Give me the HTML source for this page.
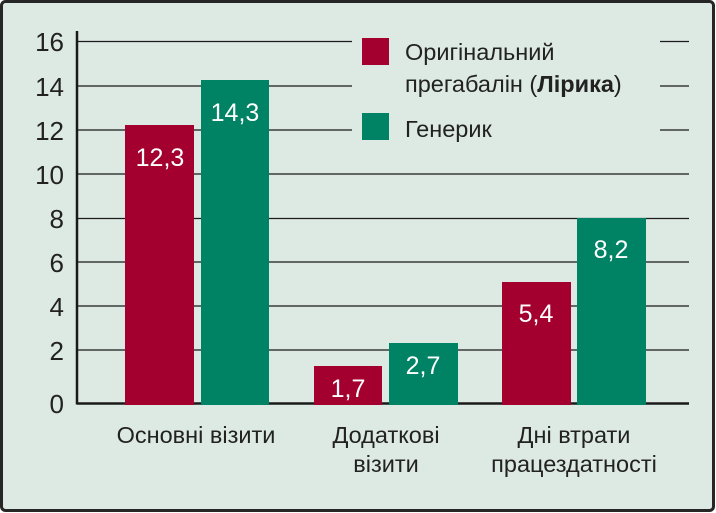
<!DOCTYPE html>
<html><head><meta charset="utf-8"><style>
html,body{margin:0;padding:0;background:#fff}
svg{display:block}
text{font-family:"Liberation Sans","DejaVu Sans",sans-serif}
</style></head><body>
<svg width="716" height="513" viewBox="0 0 716 513" xmlns="http://www.w3.org/2000/svg">
<rect x="1.5" y="1.5" width="712" height="509" rx="4" fill="#dde9e3" stroke="#262626" stroke-width="3"/>
<g stroke="#1a1a1a" stroke-width="1.3">
<line x1="77" y1="41.5" x2="689" y2="41.5"/>
<line x1="77" y1="86" x2="689" y2="86"/>
<line x1="77" y1="130" x2="689" y2="130"/>
<line x1="77" y1="174" x2="689" y2="174"/>
<line x1="77" y1="218.5" x2="689" y2="218.5"/>
<line x1="77" y1="262" x2="689" y2="262"/>
<line x1="77" y1="306" x2="689" y2="306"/>
<line x1="77" y1="350" x2="689" y2="350"/>
</g>
<line x1="77" y1="403.5" x2="689" y2="403.5" stroke="#1a1a1a" stroke-width="2.5"/>
<line x1="77" y1="31" x2="77" y2="404.5" stroke="#1a1a1a" stroke-width="2.5"/>
<g font-size="26" fill="#222" text-anchor="end">
<text x="64" y="51">16</text><text x="64" y="96">14</text><text x="64" y="140">12</text><text x="64" y="184">10</text>
<text x="64" y="228">8</text><text x="64" y="272">6</text><text x="64" y="316">4</text><text x="64" y="360">2</text><text x="64" y="413">0</text>
</g>
<rect x="352" y="28" width="308" height="120" fill="#dde9e3"/>
<g fill="#a3002f">
<rect x="125" y="125" width="69" height="280"/>
<rect x="314" y="366" width="68" height="39"/>
<rect x="502" y="282" width="69" height="123"/>
<rect x="362" y="38" width="27" height="27"/>
</g>
<g fill="#008264">
<rect x="201" y="80" width="68" height="325"/>
<rect x="389" y="343" width="69" height="62"/>
<rect x="577" y="218" width="69" height="187"/>
<rect x="362" y="113" width="27" height="27"/>
</g>
<g font-size="25" fill="#fff" text-anchor="middle">
<text x="160" y="166">12,3</text><text x="235" y="121">14,3</text>
<text x="348" y="397">1,7</text><text x="423" y="374">2,7</text>
<text x="536" y="322">5,4</text><text x="611" y="258">8,2</text>
</g>
<g font-size="23.5" fill="#222">
<text x="405" y="60">Оригінальний</text>
<text x="405" y="92">прегабалін (<tspan font-weight="bold">Лірика</tspan>)</text>
<text x="405" y="137">Генерик</text>
</g>
<g font-size="23.5" fill="#222" text-anchor="middle">
<text x="196" y="443">Основні візити</text>
<text x="386" y="443">Додаткові</text><text x="386" y="472">візити</text>
<text x="574" y="443">Дні втрати</text><text x="574" y="472">працездатності</text>
</g>
</svg>
</body></html>
